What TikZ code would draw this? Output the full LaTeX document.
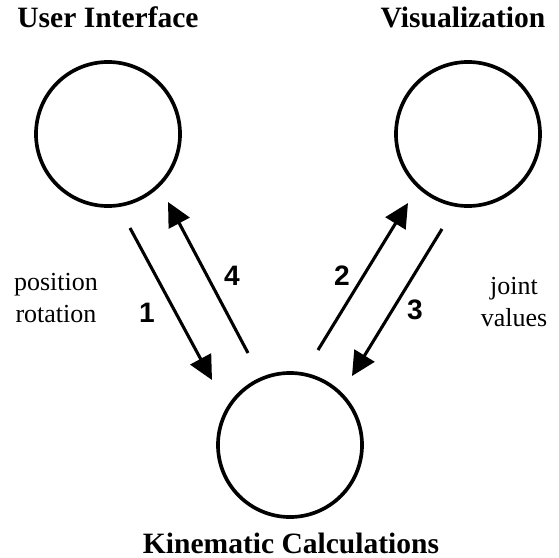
\documentclass[tikz,border=0pt]{standalone}
\usepackage{fontspec}
\setmainfont{Liberation Serif}
\newfontfamily\numfont{Liberation Sans}
\usetikzlibrary{arrows.meta}

\begin{document}
\begin{tikzpicture}[x=0.025cm, y=-0.025cm,
		unit/.style={draw, circle, line width=2.6pt, minimum size=3.6cm, inner sep=0pt},
		title/.style={anchor=base, font=\fontsize{21}{24}\selectfont\bfseries},
		flow/.style={line width=2.2pt, -{Triangle[length=0.6cm, width=0.58cm]}},
		num/.style={font=\fontsize{20}{24}\selectfont\numfont\bfseries},
		data/.style={align=center, font=\fontsize{18.5}{22.5}\selectfont}]
		\useasboundingbox (0,0) rectangle (559,558);
		
		\node[unit] (ui) at (108,134) {};
		\node[unit] (vis) at (468,134) {};
		\node[unit] (kin) at (290,445) {};
		
		\node[title] (tui) at (108,28) {User Interface};
		\node[title] (tvis) at (463,28) {Visualization};
		\node[title] (tkin) at (291,553) {Kinematic Calculations};
		
		\coordinate (a1) at (130,228);
		\coordinate (b1) at (212,380);
		\coordinate (a4) at (248,353);
		\coordinate (b4) at (168,202);
		\coordinate (a2) at (318,350);
		\coordinate (b2) at (408,203);
		\coordinate (a3) at (442,229);
		\coordinate (b3) at (352,376);
		
		\draw[flow] (a1) -- (b1);
		\draw[flow] (a4) -- (b4);
		\draw[flow] (a2) -- (b2);
		\draw[flow] (a3) -- (b3);
		
		\node[num] (n1) at (147,313) {1};
		\node[num] (n4) at (232,276) {4};
		\node[num] (n2) at (342,276) {2};
		\node[num] (n3) at (415,310) {3};
		
		\node[data] (pos) at (56,298) {position\\rotation};
		\node[data] (jnt) at (514,302) {joint\\values};
\end{tikzpicture}
\end{document}
